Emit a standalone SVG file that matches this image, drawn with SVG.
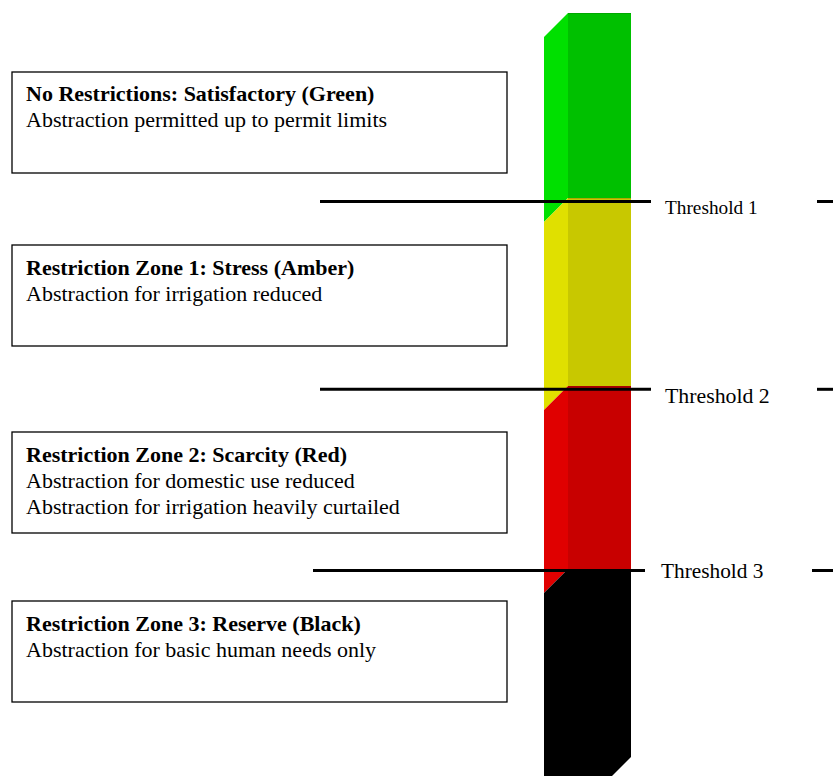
<svg xmlns="http://www.w3.org/2000/svg" width="833" height="776" viewBox="0 0 833 776">
<style>
.box{fill:#fff;stroke:#000;stroke-width:1.3}
.t{font-family:"Liberation Serif","Times New Roman",serif;font-size:22px;fill:#000}
.b{font-weight:bold}
.th{font-family:"Liberation Serif","Times New Roman",serif;fill:#000}
.ln{stroke:#000;stroke-width:3;fill:none}
</style>
<rect width="833" height="776" fill="#fff"/>
<g id="bar">
<g id="zone-green">
<polygon points="544,37 568,13 568,198 544,222" fill="#00E000"/>
<rect x="568" y="13" width="63" height="185" fill="#00C000"/>
<line x1="568" y1="13.5" x2="631" y2="13.5" stroke="#00A800" stroke-width="1"/>
</g>
<g id="zone-amber">
<polygon points="544,222 568,198 568,386 544,410" fill="#E0E000"/>
<rect x="568" y="198" width="63" height="188" fill="#C8C800"/>
<line x1="568" y1="198.5" x2="631" y2="198.5" stroke="#B0A800" stroke-width="1"/>
</g>
<g id="zone-red">
<polygon points="544,410 568,386 568,569 544,593" fill="#E00000"/>
<rect x="568" y="386" width="63" height="183" fill="#C80000"/>
<line x1="568" y1="386.5" x2="631" y2="386.5" stroke="#A80000" stroke-width="1"/>
</g>
<g id="zone-black">
<polygon points="544,593 568,569 631,569 631,757 607,781 544,781" fill="#000"/>
</g>
</g>
<g id="box-green">
<rect class="box" x="12" y="72" width="495" height="101"/>
<text class="t b" x="26" y="101">No Restrictions: Satisfactory (Green)</text>
<text class="t" x="26" y="127">Abstraction permitted up to permit limits</text>
</g>
<g id="box-amber">
<rect class="box" x="12" y="245" width="495" height="101"/>
<text class="t b" x="26" y="275">Restriction Zone 1: Stress (Amber)</text>
<text class="t" x="26" y="301">Abstraction for irrigation reduced</text>
</g>
<g id="box-red">
<rect class="box" x="12" y="432" width="495" height="101"/>
<text class="t b" x="26" y="462">Restriction Zone 2: Scarcity (Red)</text>
<text class="t" x="26" y="488">Abstraction for domestic use reduced</text>
<text class="t" x="26" y="514">Abstraction for irrigation heavily curtailed</text>
</g>
<g id="box-black">
<rect class="box" x="12" y="601" width="495" height="101"/>
<text class="t b" x="26" y="631">Restriction Zone 3: Reserve (Black)</text>
<text class="t" x="26" y="657">Abstraction for basic human needs only</text>
</g>
<g id="connectors">
<line class="ln" x1="320" y1="201.5" x2="651" y2="201.5"/>
<line class="ln" x1="817" y1="201.5" x2="833" y2="201.5"/>
<line class="ln" x1="320" y1="389.3" x2="651" y2="389.3"/>
<line class="ln" x1="817" y1="389.3" x2="833" y2="389.3"/>
<line class="ln" x1="313" y1="570.5" x2="645" y2="570.5"/>
<line class="ln" x1="812" y1="570.5" x2="833" y2="570.5"/>
</g>
<g id="threshold-labels">
<text class="th" x="665" y="214" font-size="19.3">Threshold 1</text>
<text class="th" x="665" y="403" font-size="21.8">Threshold 2</text>
<text class="th" x="661" y="578" font-size="21.3">Threshold 3</text>
</g>
</svg>
